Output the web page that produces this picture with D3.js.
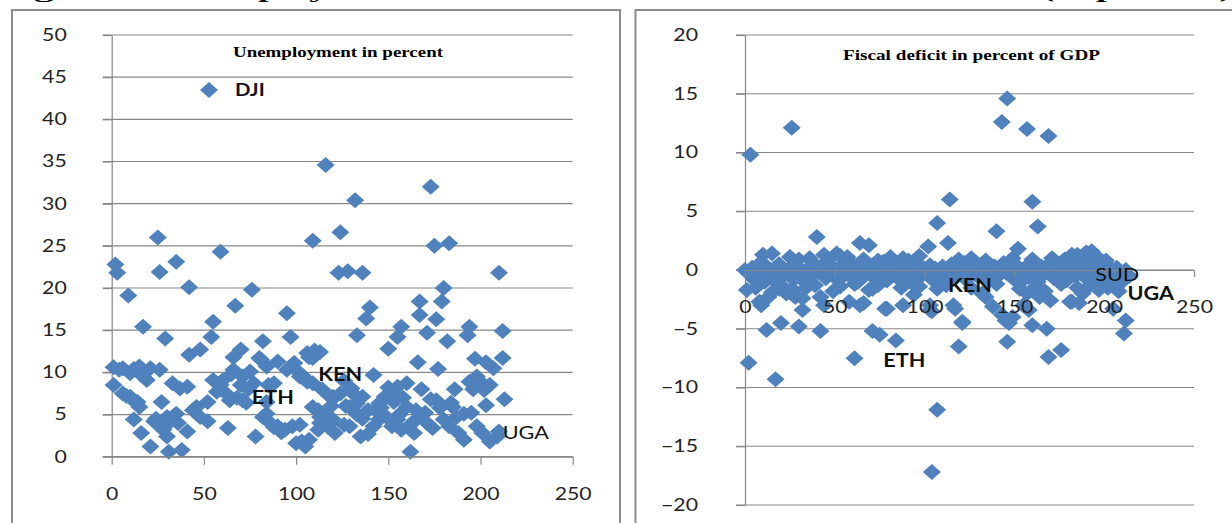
<!DOCTYPE html>
<html>
<head>
<meta charset="utf-8">
<script src="https://cdn.jsdelivr.net/npm/d3@7"></script>
<style>
  body { margin: 0; background: #fff; }
  svg { display: block; }
  .tick text { font-family: Lato, "Open Sans", sans-serif; font-size: 17px; fill: #222; }
</style>
</head>
<body>
<div id="chart"></div>
<script>
// unemployment in percent, [observation, value]
const unemployment = [
  [116,34.6],[132,30.4],[173,32.0],[109,25.6],[124,26.6],[175,25.0],[183,25.3],[123,21.8],[128,22.0],[136,21.8],[210,21.8],
  [25,26.0],[2,22.8],[3,21.8],[26,21.9],[35,23.1],[59,24.3],
  [9,19.1],[42,20.1],[76,19.8],[67,17.9],[95,17.0],[17,15.4],[55,16.0],[54,14.2],[97,14.2],[29,14.0],[82,13.7],[42,12.1],
  [48,12.7],[70,12.7],[66,11.8],[81,11.5],[109,11.7],[113,12.4],[107,11.8],
  [180,20.0],[167,18.4],[179,18.4],[140,17.7],[138,16.4],[167,16.8],[176,16.3],[157,15.4],[155,14.2],[171,14.7],[194,15.4],
  [193,14.4],[212,14.9],[133,14.4],[150,12.8],[182,13.7],[166,11.2],[177,10.4],[197,11.6],[203,11.2],[212,11.7],[207,10.5],
  [142,9.7],[186,8.0],[194,8.9],[200,8.9],[202,7.9],[203,6.1],[213,6.8],[173,6.8],
  [160,8.7],[155,8.3],[152,7.5],[148,7.1],[145,6.3],[143,5.5],[136,7.1],[133,6.3],[129,5.9],[124,7.5],[120,6.9],[185,5.9],
  [187,4.7],[191,5.1],[142,3.6],[145,4.4],[149,4.7],[126,3.8],[129,3.6],[135,2.4],[157,3.2],[162,3.8],[165,4.4],[164,2.8],
  [171,4.0],[162,0.6],[183,3.6],[188,2.8],[191,2.0],[198,3.6],[201,2.8],[205,1.8],[209,2.4],[160,5.9],[165,5.5],[176,6.7],
  [155,4.4],[152,3.6],[198,9.5],
  [1,10.6],[6,10.5],[12,10.4],[15,10.7],[21,10.5],[26,10.3],[4,10.3],[10,9.9],[17,9.5],[1,8.5],[6,7.5],[10,7.1],[14,6.5],
  [15,5.9],[19,9.1],[12,4.4],[16,2.8],[21,1.2],[23,4.2],[26,3.6],[30,4.7],[32,4.2],[35,5.1],[27,6.5],[33,8.7],[37,8.1],
  [41,8.3],[30,2.4],[31,0.6],[38,0.8],[41,3.0],[46,5.9],[48,4.7],[52,6.5],[52,4.2],[55,9.1],[59,8.5],[62,7.5],[63,3.4],
  [66,10.3],[71,9.5],[75,10.1],[70,8.5],[71,6.7],[78,2.4],[82,4.7],[86,4.0],[90,3.6],[94,3.2],[98,3.6],[102,3.8],[100,1.6],
  [105,1.2],[109,5.9],[113,4.7],[117,3.6],[120,4.4],[120,7.1],[84,10.7],[90,11.3],[95,10.3],[99,11.1],[102,9.9],[106,9.1],
  [109,8.7],[88,8.7],[80,11.7],[84,6.5],
  [106,12.3],[110,12.6],[102,9.5],[106,8.9],[103,1.8],[107,2.0],[112,5.5],[112,3.2],[114,8.0],[118,7.2],[119,6.0],[116,5.0],
  [113,4.0],[121,2.8],[126,9.0],[130,8.1],[132,7.3],[127,6.0],[133,5.0],[139,5.5],[136,4.5],[139,2.7],
  [8,7.2],[11,6.8],[24,4.5],[28,3.2],[36,4.0],[44,5.5],[57,7.7],[60,9.0],[64,6.7],[65,9.8],[73,6.4],[77,8.7],[84,5.1],
  [88,3.5],[92,2.9],[85,8.5],[98,10.9],[103,9.7],[68,7.0],[74,8.0],
  [150,8.2],[158,7.0],[168,8.0],[170,5.2],[174,3.4],[178,5.8],[180,4.4],[184,6.4],[195,5.2],[196,8.0],[205,8.5],[210,3.0],
  [146,5.8],[153,6.5],[156,5.0]
];

// fiscal deficit in percent of GDP, [observation, value]
const fiscal = [
  [3,9.8],[26,12.1],[40,2.8],[10,1.3],[15,1.4],[25,1.1],[44,1.3],[51,1.4],[57,1.1],[64,2.3],[69,2.1],[88,1.0],[102,2.0],[107,4.0],
  [146,14.6],[143,12.6],[157,12.0],[169,11.4],[114,6.0],[160,5.8],[163,3.7],[140,3.3],[113,2.3],[152,1.8],[182,1.3],[193,1.6],
  [149,1.0],[197,1.0],[188,1.2],[178,0.9],
  [1,-1.7],[2,-7.9],[17,-9.3],[9,-3.0],[13,-2.3],[12,-5.1],[20,-4.5],[30,-4.8],[42,-5.2],[32,-3.4],[44,-3.0],[61,-7.5],
  [71,-5.2],[75,-5.5],[84,-6.0],[66,-2.8],[78,-3.3],[88,-3.0],[104,-3.5],[107,-11.9],[104,-17.2],[23,-2.0],[27,-1.7],
  [117,-3.3],[121,-4.5],[119,-6.5],[143,-3.8],[147,-4.5],[146,-6.1],[160,-4.7],[168,-5.0],[169,-7.4],[176,-6.8],[170,-2.6],
  [182,-2.7],[186,-2.8],[212,-4.3],[211,-5.4],[153,-1.1],[157,-2.0],[134,-2.3],[103,-3.4],[205,-3.3],
  [8,-2.7],[21,-1.4],[25,-1.8],[28,-2.3],[32,-2.4],[42,-2.3],[49,-1.8],[58,-2.7],[64,-3.0],[71,-1.6],[79,-3.3],[94,-2.1],
  [103,-3.0],[116,-3.0],[121,-4.4],[132,-2.0],[138,-3.1],[145,-4.3],[149,-4.0],[153,-1.6],[155,-3.0],[158,-3.4],[164,-2.3],
  [181,-2.7],[188,-2.0],[197,-1.7],[199,-1.2],
  [0,0.0],[2,-0.3],[4,0.2],[5,-0.8],[7,0.4],[8,-0.5],[11,-1.0],[12,0.3],[14,-0.6],[16,0.1],[18,-1.1],[19,0.5],[22,-0.4],
  [24,0.0],[27,-0.8],[29,0.3],[31,-0.2],[33,-1.0],[35,0.1],[37,-0.5],[38,0.6],[40,-0.2],[43,0.0],[45,-0.7],[47,0.3],
  [48,-0.3],[50,0.1],[52,-0.9],[54,0.4],[55,-0.2],[57,0.0],[59,-0.6],[60,0.5],[62,-0.1],[63,-1.0],[65,0.2],[67,-0.4],
  [68,0.6],[70,0.0],[72,-0.7],[73,0.3],[76,-0.2],[77,0.7],[79,-0.9],[80,0.1],[82,-0.4],[83,0.4],[85,0.0],[86,-0.8],
  [89,0.5],[90,-0.3],[92,0.2],[93,-1.1],[95,0.0],[96,0.6],[98,-0.5],[99,0.2],[101,-0.2],[103,0.4],[105,-0.9],[106,0.1],
  [108,-0.4],[110,0.3],[111,-1.0],[113,0.0],[115,0.5],[116,-0.6],[118,0.2],[120,-0.2],[122,0.6],[123,-0.8],[125,0.1],
  [127,-0.3],[128,0.4],[130,-0.6],[131,0.2],[133,-0.1],[135,0.5],[136,-0.9],[137,0.0],[139,0.3],[141,-0.5],[142,0.1],
  [144,0.6],[146,-0.3],[148,0.0],[150,-0.8],[151,0.4],[154,-0.2],[156,0.2],[158,-0.6],[159,0.5],[161,-0.1],[163,-1.0],
  [165,0.3],[166,-0.4],[168,0.1],[170,0.6],[172,-0.7],[173,0.2],[175,-0.3],[177,0.4],[179,-0.9],[180,0.0],[183,0.5],
  [184,-0.5],[186,0.7],[187,-0.1],[189,0.9],[190,-0.7],[191,0.3],[193,1.1],[194,-0.2],[195,0.6],[196,-1.0],[198,0.2],
  [200,-0.4],[201,0.8],[203,-0.6],[204,0.1],[206,-0.9],[207,0.2],[209,-0.3],[210,-1.0],[212,0.0],[214,-0.5],
  [30,0.9],[36,1.0],[46,0.8],[53,1.2],[66,0.9],[74,0.8],[81,1.1],[91,0.8],[97,1.2],[119,0.9],[126,1.0],[134,0.8],
  [160,0.9],[171,1.0],[185,1.3],[190,1.5],[195,1.2],
  [6,-1.5],[15,-1.9],[19,-1.6],[34,-1.5],[39,-1.3],[53,-1.4],[61,-1.2],[69,-1.7],[74,-1.3],[87,-1.5],[97,-1.4],[107,-1.6],
  [112,-1.3],[126,-1.5],[140,-1.2],[162,-1.4],[167,-1.8],[176,-1.2],[185,-1.5],[192,-1.3],[202,-1.5],[208,-1.8]
];

const xTicks = [0, 50, 100, 150, 200, 250];
const unempTicks = [0, 5, 10, 15, 20, 25, 30, 35, 40, 45, 50];
const fiscalTicks = [-20, -15, -10, -5, 0, 5, 10, 15, 20];

// country labels, anchored in data units
const unempLabels = [
  { text: "ETH", x: 76, y: 7.0, bold: true },
  { text: "KEN", x: 112, y: 9.7, bold: true },
  { text: "UGA", x: 212, y: 2.9, bold: false }
];
const fiscalLabels = [
  { text: "ETH", x: 77, y: -7.7, bold: true },
  { text: "KEN", x: 113, y: -1.3, bold: true },
  { text: "SUD", x: 195, y: -0.4, bold: false },
  { text: "UGA", x: 213, y: -2.0, bold: true }
];

const width = 1232, height = 523;
const blue = "#4f81bd";
const grey = "#878787";
const diamond = "M0,-8L9,0L0,8L-9,0Z";

const svg = d3.select("#chart").append("svg")
  .attr("width", width)
  .attr("height", height);

// figure title, cut off by the top edge like the source
svg.append("text")
  .attr("x", 0)
  .attr("y", -2)
  .attr("textLength", 1232)
  .attr("lengthAdjust", "spacingAndGlyphs")
  .style("font-family", "Liberation Serif, serif")
  .style("font-weight", "bold")
  .style("font-size", "17px")
  .text("Figure 2: Unemployment and fiscal deficit in selected countries (in percent)");

// panel frames
svg.append("rect").attr("x", 12).attr("y", 10).attr("width", 608).attr("height", 540)
  .attr("fill", "none").attr("stroke", "#8c8c8c").attr("stroke-width", 2);
svg.append("rect").attr("x", 635.5).attr("y", 10).attr("width", 640).attr("height", 540)
  .attr("fill", "none").attr("stroke", "#8c8c8c").attr("stroke-width", 2);

// stretch text a little wider, like the source image
function widen(sel, k) {
  sel.each(function() {
    const t = d3.select(this);
    const x = +t.attr("x") || 0, y = +t.attr("y") || 0;
    t.attr("x", 0).attr("y", 0).attr("transform", `translate(${x},${y}) scale(${k},1)`);
  });
}

function styleAxis(g) {
  g.selectAll("path.domain").attr("stroke", grey).attr("stroke-width", 1.2);
  g.selectAll(".tick line").attr("stroke", grey).attr("stroke-width", 1.2);
  widen(g.selectAll(".tick text"), 1.25);
}

function panel(opts) {
  const x = d3.scaleLinear().domain([0, 250]).range(opts.xRange);
  const y = d3.scaleLinear().domain(opts.yDomain).range(opts.yRange);
  const g = svg.append("g");

  // gridlines
  g.append("g")
    .selectAll("line")
    .data(opts.yTicks)
    .enter()
    .append("line")
    .attr("x1", opts.xRange[0] - 9)
    .attr("x2", opts.xRange[1])
    .attr("y1", d => y(d))
    .attr("y2", d => y(d))
    .attr("stroke", grey)
    .attr("stroke-width", 1.2);

  // y axis
  const yAxis = g.append("g")
    .attr("transform", `translate(${opts.xRange[0]},0)`)
    .call(d3.axisLeft(y).tickValues(opts.yTicks).tickSize(9).tickSizeOuter(0).tickPadding(opts.yPad).tickFormat(d3.format("d")));
  styleAxis(yAxis);

  // points
  g.append("g")
    .selectAll("path")
    .data(opts.data)
    .enter()
    .append("path")
    .attr("d", diamond)
    .attr("transform", d => `translate(${x(d[0])},${y(d[1])})`)
    .attr("fill", blue);

  // x axis, crossing at zero
  const xAxis = g.append("g")
    .attr("transform", `translate(0,${y(0)})`)
    .call(d3.axisBottom(x).tickValues(xTicks).tickSize(opts.xTick).tickSizeOuter(0).tickPadding(opts.xPad));
  styleAxis(xAxis);

  // country labels
  g.append("g")
    .selectAll("text")
    .data(opts.labels)
    .enter()
    .append("text")
    .attr("transform", d => `translate(${x(d.x)},${y(d.y)}) scale(1.2,1)`)
    .attr("dy", "0.36em")
    .style("font-family", "Lato, sans-serif")
    .style("font-size", "18px")
    .style("font-weight", d => d.bold ? "bold" : "normal")
    .style("fill", "#111")
    .text(d => d.text);

  // chart title
  g.append("text")
    .attr("x", opts.title.x)
    .attr("y", opts.title.y)
    .attr("textLength", opts.title.w)
    .attr("lengthAdjust", "spacingAndGlyphs")
    .style("font-family", "Liberation Serif, serif")
    .style("font-size", "14px")
    .style("font-weight", "bold")
    .text(opts.title.text);

  return { x, y, g };
}

const left = panel({
  data: unemployment,
  xRange: [111.7, 572.7],
  yDomain: [0, 50],
  yRange: [456.7, 35],
  yTicks: unempTicks,
  yPad: 36,
  xTick: 8,
  xPad: 23,
  labels: unempLabels,
  title: { text: "Unemployment in percent", x: 233, y: 57, w: 210 }
});

panel({
  data: fiscal,
  xRange: [745, 1194],
  yDomain: [-20, 20],
  yRange: [505, 35],
  yTicks: fiscalTicks,
  yPad: 38,
  xTick: 7,
  xPad: 24,
  labels: fiscalLabels,
  title: { text: "Fiscal deficit in percent of GDP", x: 843, y: 60, w: 257 }
});

// legend of the left chart
const legend = left.g.append("g").attr("transform", "translate(209,90)");
legend.append("path").attr("d", diamond).attr("fill", blue);
legend.append("text")
  .attr("transform", "translate(26,0) scale(1.2,1)")
  .attr("dy", "0.36em")
  .style("font-family", "Lato, sans-serif")
  .style("font-size", "17px")
  .style("font-weight", "bold")
  .style("fill", "#111")
  .text("DJI");
</script>
</body>
</html>
